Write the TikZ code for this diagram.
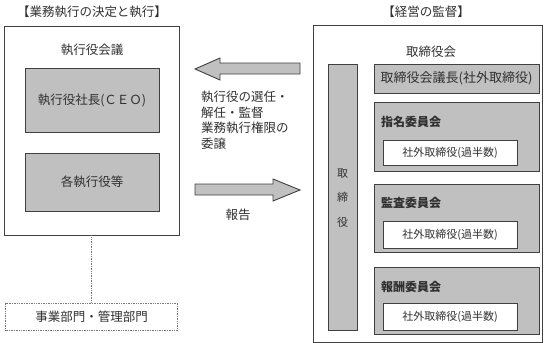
\documentclass[tikz,border=0pt]{standalone}
\usepackage{fontspec}
\newfontfamily\jp{Noto Sans CJK JP}
\usetikzlibrary{positioning}
\definecolor{boxgray}{HTML}{C0C0C0}
\definecolor{edge}{HTML}{404040}
\definecolor{txt}{HTML}{303030}
\tikzset{
  every node/.style={font=\jp\fontsize{12.5}{14}\selectfont, text=txt, inner sep=0pt},
  frame/.style={draw=edge, line width=0.9pt, fill=white},
  graybox/.style={draw=edge, line width=0.9pt, fill=boxgray},
  whitebox/.style={draw=edge, line width=0.9pt, fill=white},
  dotbox/.style={draw=edge!70, line width=0.7pt, densely dotted, fill=white},
  blockarrow/.style={draw=edge, line width=0.9pt, fill=boxgray},
  lbl/.style={font=\jp\fontsize{12.5}{14}\selectfont},
  cttl/.style={font=\jp\bfseries\fontsize{12}{14}\selectfont, anchor=west},
  smalltxt/.style={font=\jp\fontsize{11}{13}\selectfont},
}
\begin{document}
\begin{tikzpicture}[x=1pt,y=-1pt]
\useasboundingbox (0,0) rectangle (544,343);
% left side
\node[lbl] (ltitle) at (92,12) {【業務執行の決定と執行】};
\node[frame, minimum width=175pt, minimum height=209pt] (exec) at (91.5,130.5) {};
\node[lbl] (execttl) at (92,50) {執行役会議};
\node[graybox, minimum width=134pt, minimum height=64pt] (ceo) at (92,100) {執行役社長(ＣＥＯ)};
\node[graybox, minimum width=134pt, minimum height=58pt] (officers) at (92,182) {各執行役等};
\node[dotbox, minimum width=172pt, minimum height=27pt] (dept) at (91.5,316.5) {事業部門・管理部門};
\draw[edge!70, line width=0.7pt, densely dotted] (exec.south) -- (dept.north);
% arrows
\draw[blockarrow] (300,63) -- (220,63) -- (220,58) -- (195,69) -- (220,80) -- (220,74) -- (300,74) -- cycle;
\draw[blockarrow] (195,184) -- (273,184) -- (273,179) -- (300,190) -- (273,201) -- (273,195) -- (195,195) -- cycle;
\node[lbl, anchor=north west, align=left, font=\jp\fontsize{12.5}{15.5}\selectfont] (delegate) at (201,91) {執行役の選任・\\解任・監督\\業務執行権限の\\委譲};
\node[lbl] (report) at (238,215) {報告};
% right side
\node[lbl] (rtitle) at (426,12) {【経営の監督】};
\node[frame, minimum width=229.5pt, minimum height=317pt] (board) at (428,183.5) {};
\node[lbl] (boardttl) at (431,52) {取締役会};
\node[graybox, minimum width=29pt, minimum height=266pt] (dirs) at (342.5,197) {};
\node[lbl, align=center, font=\jp\fontsize{11}{24.5}\selectfont] (dirstxt) at (342.5,198) {取\\締\\役};
\node[graybox, font=\jp\fontsize{13}{14}\selectfont, minimum width=165pt, minimum height=29pt] (chair) at (456.5,78.5) {取締役会議長(社外取締役)};
\node[graybox, minimum width=165pt, minimum height=69pt] (nom) at (456.5,136.5) {};
\node[cttl] (nomttl) at (381,122) {指名委員会};
\node[whitebox, smalltxt, minimum width=134pt, minimum height=25pt] (nomin) at (450,152.5) {社外取締役(過半数)};
\node[graybox, minimum width=165pt, minimum height=68pt] (aud) at (456.5,218) {};
\node[cttl] (audttl) at (381,203) {監査委員会};
\node[whitebox, smalltxt, minimum width=134pt, minimum height=27pt] (audin) at (450,234.5) {社外取締役(過半数)};
\node[graybox, minimum width=165pt, minimum height=67pt] (comp) at (456.5,300.5) {};
\node[cttl] (compttl) at (381,287) {報酬委員会};
\node[whitebox, smalltxt, minimum width=134pt, minimum height=27pt] (compin) at (450,316.5) {社外取締役(過半数)};
\end{tikzpicture}
\end{document}
